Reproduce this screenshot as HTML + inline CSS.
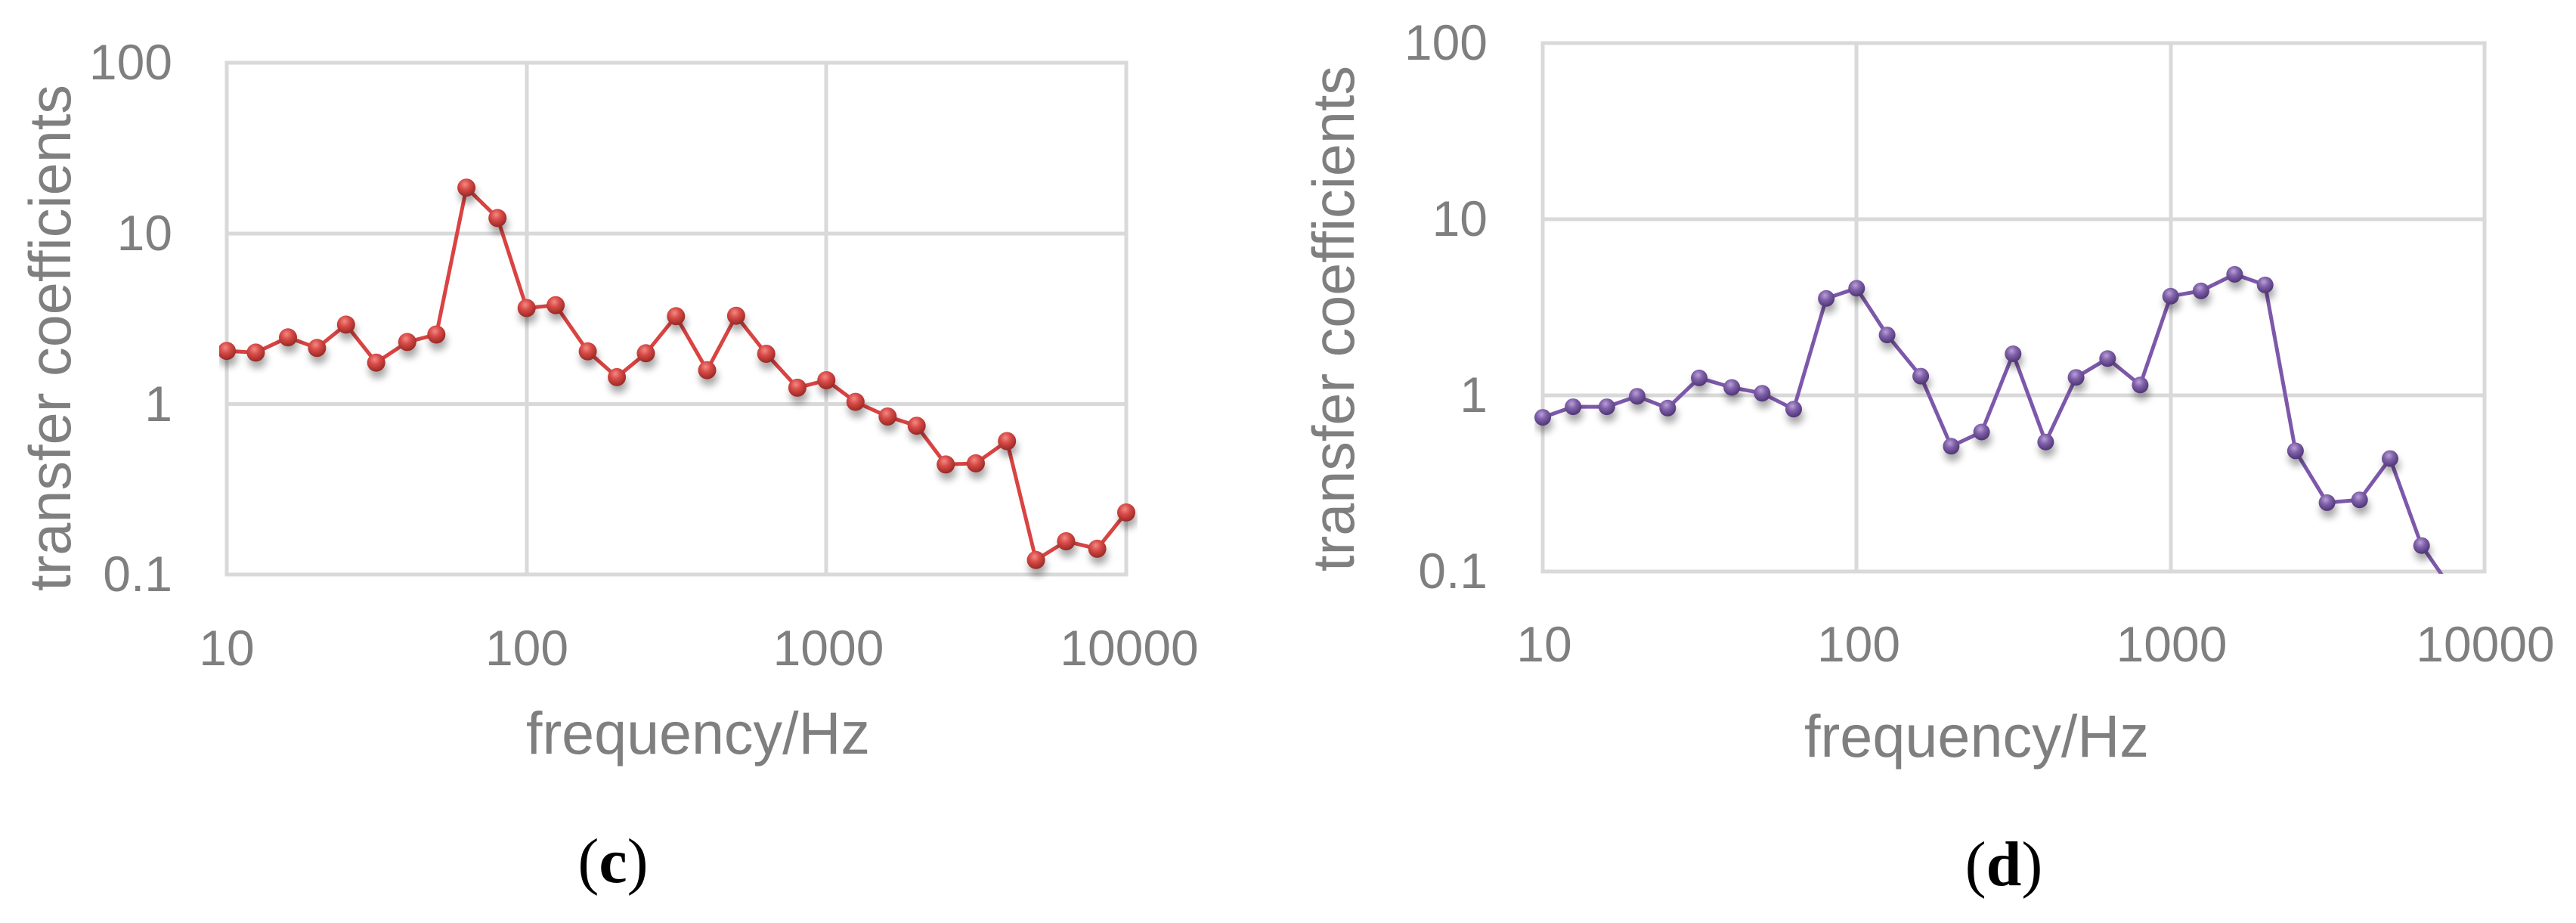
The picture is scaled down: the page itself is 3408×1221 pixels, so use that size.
<!DOCTYPE html>
<html>
<head>
<meta charset="utf-8">
<style>
html,body{margin:0;padding:0;background:#fff;}
svg{display:block;}
.t{font-family:"Liberation Sans",sans-serif;fill:#7f7f7f;}
.cap{font-family:"Liberation Serif",serif;fill:#000;}
</style>
</head>
<body>
<svg id="s" width="3408" height="1221" viewBox="0 0 3408 1221" xmlns="http://www.w3.org/2000/svg">
<defs>
  <radialGradient id="gr" cx="42%" cy="32%" r="65%">
    <stop offset="0" stop-color="#f28a86"/>
    <stop offset="0.45" stop-color="#d84a46"/>
    <stop offset="1" stop-color="#9c2b28"/>
  </radialGradient>
  <radialGradient id="gp" cx="42%" cy="32%" r="65%">
    <stop offset="0" stop-color="#b9a1d6"/>
    <stop offset="0.45" stop-color="#8061aa"/>
    <stop offset="1" stop-color="#523878"/>
  </radialGradient>
  <filter id="sh" x="-50%" y="-50%" width="200%" height="250%">
    <feGaussianBlur in="SourceAlpha" stdDeviation="5"/>
    <feOffset dx="2" dy="9" result="b"/>
    <feComponentTransfer><feFuncA type="linear" slope="0.35"/></feComponentTransfer>
    <feMerge><feMergeNode/><feMergeNode in="SourceGraphic"/></feMerge>
  </filter>
  <clipPath id="clipL"><rect x="290" y="70" width="1215" height="700"/></clipPath>
  <clipPath id="clipR"><rect x="2030" y="45" width="1270" height="714"/></clipPath>
</defs>

<!-- LEFT CHART (c) -->
<g stroke="#d9d9d9" stroke-width="5" fill="none">
  <rect x="300" y="83" width="1190" height="677"/>
  <line x1="697" y1="83" x2="697" y2="760"/>
  <line x1="1093" y1="83" x2="1093" y2="760"/>
  <line x1="300" y1="309" x2="1490" y2="309"/>
  <line x1="300" y1="534.5" x2="1490" y2="534.5"/>
</g>
<g class="t" font-size="66" text-anchor="end">
  <text x="228" y="105">100</text>
  <text x="228" y="331">10</text>
  <text x="228" y="557">1</text>
  <text x="228" y="782">0.1</text>
</g>
<g class="t" font-size="66" text-anchor="middle">
  <text x="300" y="880">10</text>
  <text x="697" y="880">100</text>
  <text x="1096" y="880">1000</text>
  <text x="1494" y="880">10000</text>
</g>
<text class="t" x="696" y="997" font-size="79" textLength="455" lengthAdjust="spacingAndGlyphs">frequency/Hz</text>
<text class="t" transform="translate(93,782) rotate(-90)" font-size="78" textLength="670" lengthAdjust="spacingAndGlyphs">transfer coefficients</text>
<text class="cap" x="811" y="1167" font-size="84" text-anchor="middle">(<tspan font-weight="bold">c</tspan>)</text>
<g id="seriesL" clip-path="url(#clipL)"></g>

<!-- RIGHT CHART (d) -->
<g stroke="#d9d9d9" stroke-width="5" fill="none">
  <rect x="2041" y="57" width="1246" height="699"/>
  <line x1="2456" y1="57" x2="2456" y2="756"/>
  <line x1="2872" y1="57" x2="2872" y2="756"/>
  <line x1="2041" y1="290" x2="3287" y2="290"/>
  <line x1="2041" y1="523" x2="3287" y2="523"/>
</g>
<g class="t" font-size="66" text-anchor="end">
  <text x="1968" y="79">100</text>
  <text x="1968" y="312">10</text>
  <text x="1968" y="545">1</text>
  <text x="1968" y="778">0.1</text>
</g>
<g class="t" font-size="66" text-anchor="middle">
  <text x="2043" y="875">10</text>
  <text x="2459" y="875">100</text>
  <text x="2873" y="875">1000</text>
  <text x="3288" y="875">10000</text>
</g>
<text class="t" x="2387" y="1001" font-size="79" textLength="456" lengthAdjust="spacingAndGlyphs">frequency/Hz</text>
<text class="t" transform="translate(1791,756) rotate(-90)" font-size="78" textLength="669" lengthAdjust="spacingAndGlyphs">transfer coefficients</text>
<text class="cap" x="2651" y="1171" font-size="84" text-anchor="middle">(<tspan font-weight="bold">d</tspan>)</text>
<g id="seriesR" clip-path="url(#clipR)"></g>
</svg>
<script>
(function(){
var NS="http://www.w3.org/2000/svg";
var F=[10,12.5,16,20,25,31.5,40,50,63,80,100,125,160,200,250,315,400,500,630,800,1000,1250,1600,2000,2500,3150,4000,5000,6300,8000,10000];
var L=[0.311,0.301,0.390,0.328,0.465,0.242,0.363,0.407,1.268,1.090,0.562,0.579,0.308,0.157,0.297,0.514,0.198,0.517,0.294,0.095,0.139,0.012,-0.074,-0.128,-0.355,-0.348,-0.218,-0.915,-0.805,-0.849,-0.636];
var R=[-0.125,-0.065,-0.065,-0.005,-0.072,0.099,0.045,0.012,-0.078,0.550,0.608,0.343,0.109,-0.289,-0.208,0.236,-0.265,0.102,0.209,0.059,0.563,0.593,0.687,0.627,-0.315,-0.609,-0.593,-0.359,-0.853,-1.12];
function draw(gid,vals,x0,x1,y0,y1,col,grad,r,nMarkers){
  var g=document.getElementById(gid);
  var dx=(x1-x0)/3, dy=(y1-y0)/3;
  var pts=[];
  for(var i=0;i<vals.length;i++){
    var x=x0+dx*Math.log10(F[i]/10);
    var y=y0+dy*(2-vals[i]);
    pts.push([x,y]);
  }
  var pl=document.createElementNS(NS,"polyline");
  pl.setAttribute("points",pts.map(function(p){return p[0].toFixed(1)+","+p[1].toFixed(1);}).join(" "));
  pl.setAttribute("fill","none");
  pl.setAttribute("stroke",col);
  pl.setAttribute("stroke-width","5");
  pl.setAttribute("stroke-linejoin","round");
  g.appendChild(pl);
  var mg=document.createElementNS(NS,"g");
  mg.setAttribute("filter","url(#sh)");
  for(var j=0;j<nMarkers;j++){
    var c=document.createElementNS(NS,"circle");
    c.setAttribute("cx",pts[j][0].toFixed(1));
    c.setAttribute("cy",pts[j][1].toFixed(1));
    c.setAttribute("r",r);
    c.setAttribute("fill","url(#"+grad+")");
    mg.appendChild(c);
  }
  g.appendChild(mg);
}
draw("seriesL",L,300,1490,83,760,"#d94342","gr",12,31);
draw("seriesR",R,2041,3287,57,756,"#7d58aa","gp",11,29);
})();
</script>
</body>
</html>
